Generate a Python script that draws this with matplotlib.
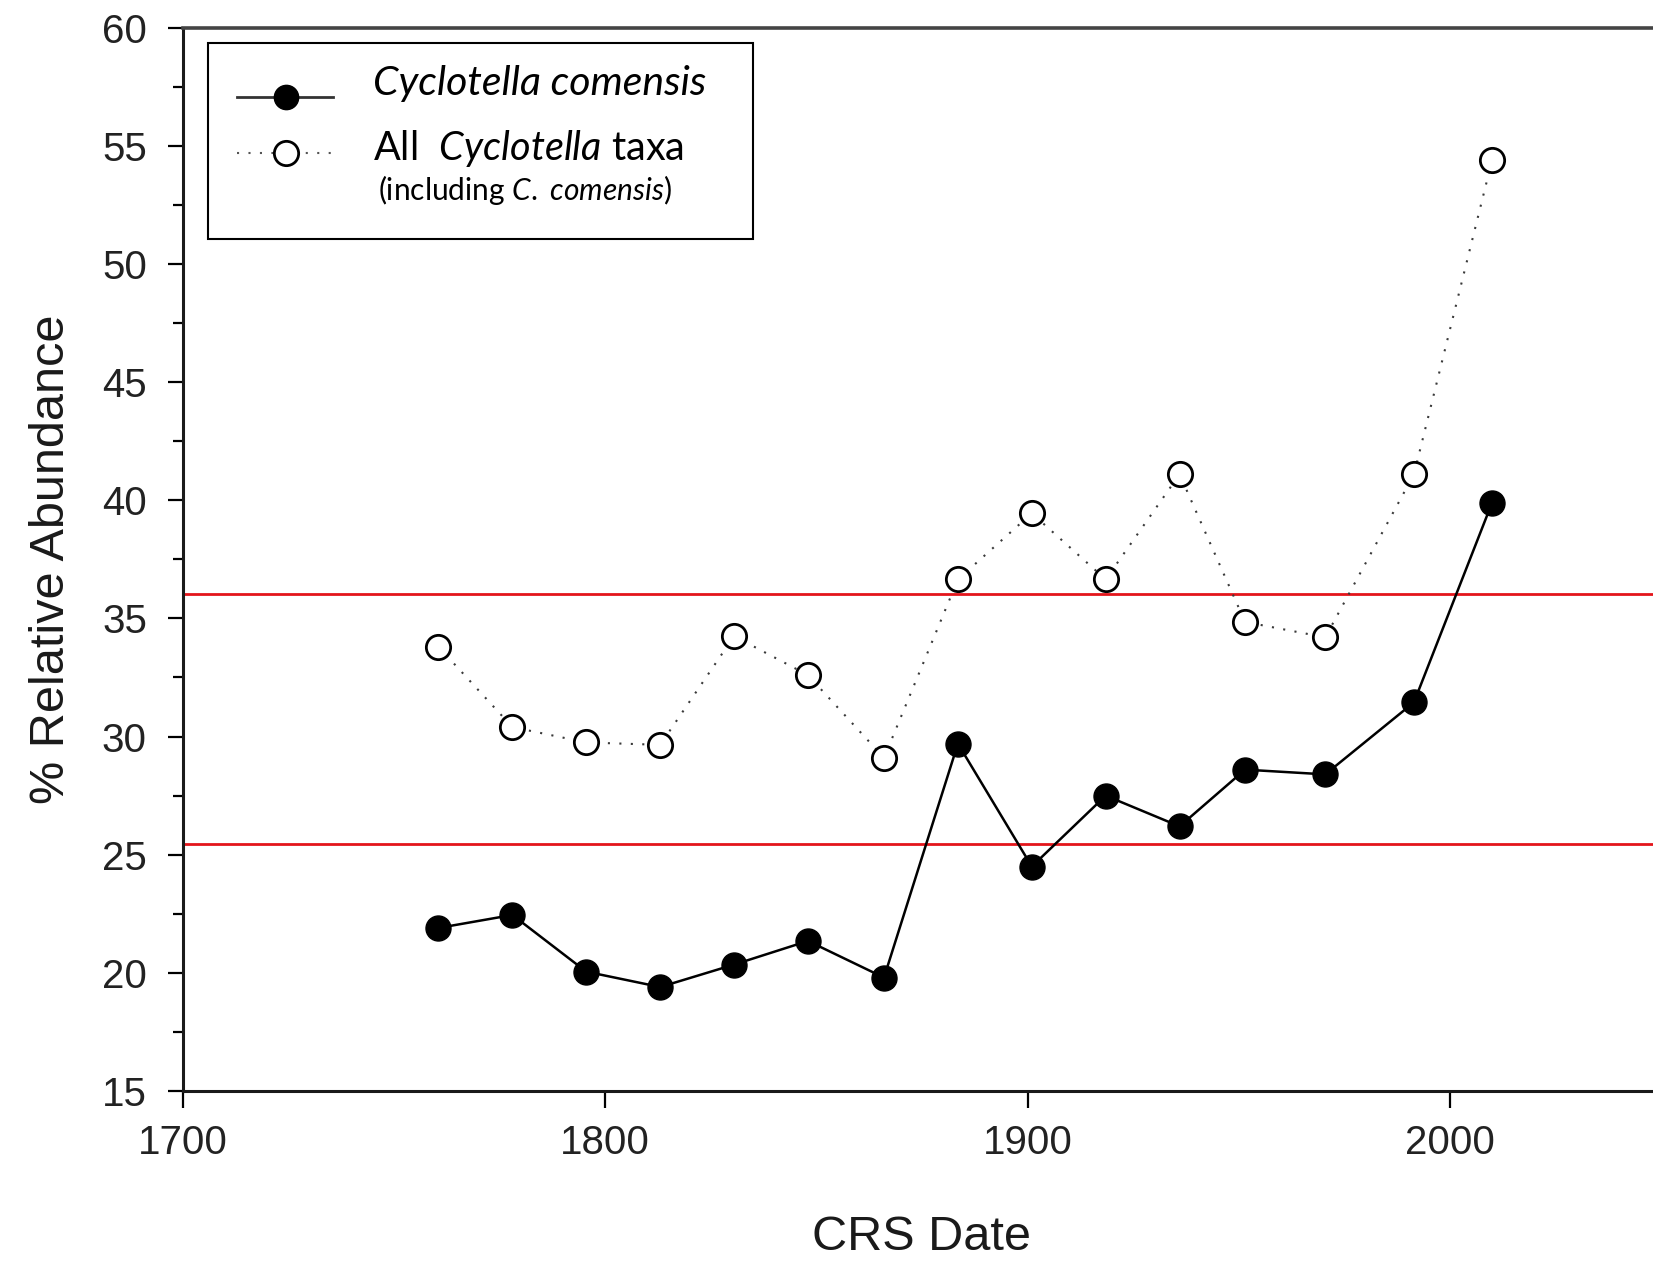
import matplotlib
matplotlib.use('Agg')
import matplotlib.pyplot as plt
from matplotlib.ticker import MultipleLocator
from matplotlib.lines import Line2D
from matplotlib.patches import Rectangle

# ---- data ----
years = [1760.5, 1778, 1795.5, 1813, 1830.5, 1848, 1866, 1883.5, 1901,
         1918.5, 1936, 1951.5, 1970.5, 1991.5, 2010]
comensis = [21.9, 22.45, 20.05, 19.4, 20.35, 21.35, 19.8, 29.7, 24.5,
            27.5, 26.2, 28.6, 28.4, 31.45, 39.9]
all_cyclotella = [33.8, 30.4, 29.75, 29.65, 34.25, 32.6, 29.1, 36.65, 39.45,
                  36.65, 41.1, 34.85, 34.2, 41.1, 54.4]
ref_lines = [36.05, 25.45]
xticks = [1700, 1800, 1900, 2000]
yticks = [15, 20, 25, 30, 35, 40, 45, 50, 55, 60]

W, H = 1653, 1262
plt.rcParams['font.family'] = ['Liberation Sans', 'DejaVu Sans']
plt.rcParams['mathtext.fontset'] = 'custom'
plt.rcParams['mathtext.it'] = 'Lato:italic'
plt.rcParams['mathtext.rm'] = 'Lato'

fig = plt.figure(figsize=(W / 100, H / 100), dpi=100)
left_px, right_px, top_px, bot_px = 183, 1661, 27.7, 1091
ax = fig.add_axes([left_px / W, 1 - bot_px / H, (right_px - left_px) / W, (bot_px - top_px) / H])

for y in ref_lines:
    ax.axhline(y, color='#e3151b', lw=2.0, zorder=1)

ax.plot(years, all_cyclotella, color='#3a3a3a', lw=1.5, linestyle=(0, (1, 4.5)),
        marker='o', ms=17.5, mfc='white', mec='black', mew=2.0, zorder=3)
ax.plot(years, comensis, color='black', lw=1.8, linestyle='-',
        marker='o', ms=18, mfc='black', mec='black', zorder=4)

ax.set_xlim(1700, 2050)
ax.set_ylim(15, 60)
ax.set_xticks(xticks)
ax.set_yticks(yticks)
ax.yaxis.set_minor_locator(MultipleLocator(2.5))
ax.tick_params(axis='both', which='major', labelsize=29, width=1.6, colors='black')
ax.tick_params(axis='x', which='major', direction='out', length=12, pad=12)
ax.tick_params(axis='y', which='major', direction='out', length=11, pad=15)
ax.tick_params(axis='y', which='minor', direction='out', length=7, width=1.6)
ax.tick_params(axis='y', which='both', right=True)
for lab in ax.get_yticklabels() + ax.get_xticklabels():
    lab.set_color('#222222')

for s in ['left', 'bottom']:
    ax.spines[s].set_linewidth(2.2)
    ax.spines[s].set_color('#1a1a1a')
ax.spines['top'].set_linewidth(2.6)
ax.spines['top'].set_color('#444444')
ax.spines['right'].set_linewidth(2.0)

ax.set_xlabel('CRS Date', fontsize=35, color='#1a1a1a')
ax.set_ylabel('% Relative Abundance', fontsize=35, color='#1a1a1a')
ax.xaxis.label.set_va('center')
ax.yaxis.label.set_va('center')
ax.xaxis.set_label_coords(0.5, (bot_px - 1238) / (bot_px - top_px))
ax.yaxis.set_label_coords((51 - left_px) / (right_px - left_px), 0.5)

# ---- legend (custom, mixed italic) ----
def fx(x):
    return x / W

def fy(y):
    return 1 - y / H

box = Rectangle((fx(208), fy(239)), (753 - 208) / W, (239 - 43) / H,
                transform=fig.transFigure, facecolor='white', edgecolor='black',
                lw=1.5, zorder=10)
fig.add_artist(box)
fig.add_artist(Line2D([fx(237), fx(333)], [fy(97), fy(97)], transform=fig.transFigure,
                      color='#333333', lw=2.0, zorder=11))
fig.add_artist(Line2D([fx(286)], [fy(97)], transform=fig.transFigure, marker='o', ms=17.5,
                      mfc='black', mec='black', lw=0, zorder=12))
fig.add_artist(Line2D([fx(237), fx(333)], [fy(153), fy(153)], transform=fig.transFigure,
                      color='#555555', lw=1.5, linestyle=(0, (1, 4.5)), zorder=11))
fig.add_artist(Line2D([fx(286)], [fy(153)], transform=fig.transFigure, marker='o', ms=17.5,
                      mfc='white', mec='black', mew=2.0, lw=0, zorder=12))

fig.text(fx(373), fy(95), 'Cyclotella comensis', family='Lato', style='italic',
         fontsize=29.5, va='baseline', ha='left', zorder=13)
fig.text(fx(373), fy(160), r'All  $\mathit{Cyclotella}$ taxa', family='Lato',
         fontsize=28.5, va='baseline', ha='left', zorder=13)
fig.text(fx(378), fy(200), r'(including $\mathit{C.}$ $\mathit{comensis}$)', family='Lato',
         fontsize=21.5, va='baseline', ha='left', zorder=13)

fig.savefig('out.png', dpi=100, facecolor='white')
